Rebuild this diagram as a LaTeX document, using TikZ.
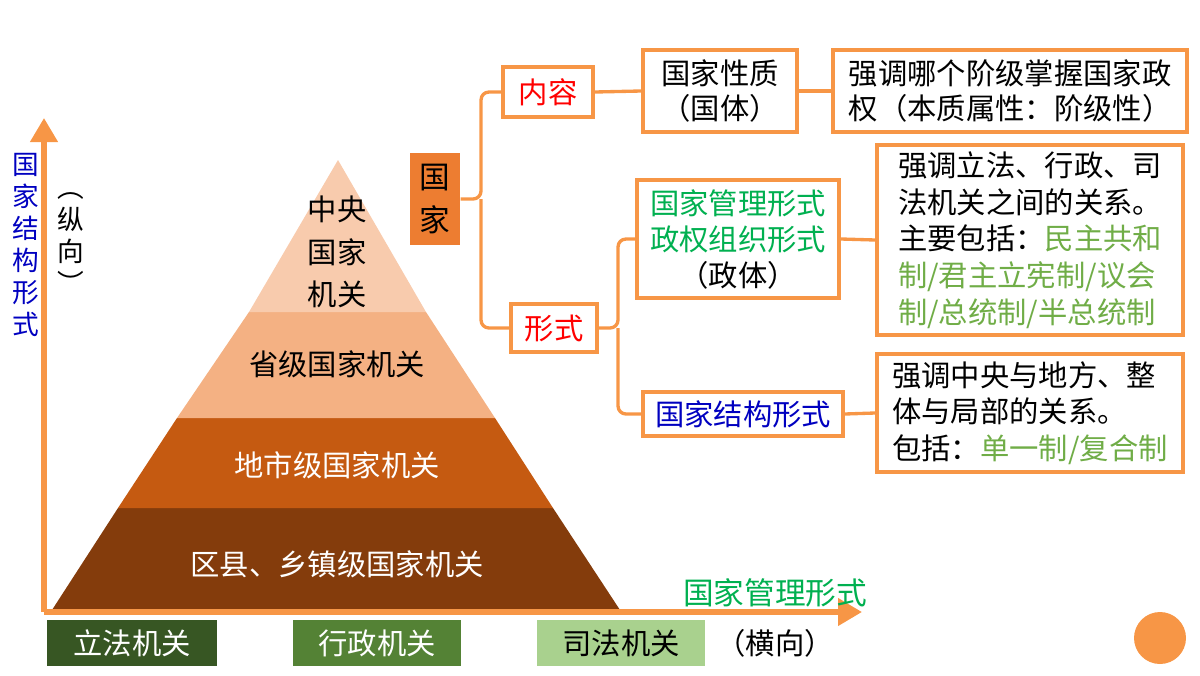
\documentclass[tikz,border=0pt]{standalone}
\usepackage{fontspec}
\setmainfont{Noto Sans CJK SC}
\usetikzlibrary{arrows.meta}
\definecolor{orline}{RGB}{247,150,70}
\definecolor{guoBlue}{RGB}{0,0,192}
\definecolor{guoGreen}{RGB}{0,176,80}
\definecolor{liteGreen}{RGB}{112,173,71}
\tikzset{every picture/.style={line width=0.75pt}}
\tikzset{
  box/.style={draw=orline,line width=3pt,fill=white,inner sep=0pt,align=center},
  branch/.style={draw=orline,line width=2.5pt,rounded corners=6pt},
  base/.style={inner sep=0pt,font=\fontsize{22}{26}\selectfont},
  axis/.style={draw=orline,line width=4pt,-{Triangle[length=18pt,width=20pt]}}
}
\begin{document}
\begin{tikzpicture}[x=0.75pt,y=0.75pt,yscale=-1,xscale=1]
\useasboundingbox (0,0) rectangle (1200,675);

%Pyramid
\fill [fill={rgb, 255:red, 132; green, 60; blue, 12}] (52,610) -- (620,610) -- (553,508) -- (118,508) -- cycle;
\fill [fill={rgb, 255:red, 197; green, 90; blue, 17}] (118,508) -- (553,508) -- (495,418) -- (177,418) -- cycle;
\fill [fill={rgb, 255:red, 244; green, 177; blue, 131}] (177,418) -- (495,418) -- (426,312) -- (249,312) -- cycle;
\fill [fill={rgb, 255:red, 248; green, 203; blue, 173}] (249,312) -- (426,312) -- (338,160) -- cycle;
\node [base,align=center,font=\fontsize{22}{32}\selectfont] (central) at (337,252) {中央\\国家\\机关};
\node [base] (prov) at (337,364) {省级国家机关};
\node [base,text=white] (city) at (337,465) {地市级国家机关};
\node [base,text=white] (county) at (337,564) {区县、乡镇级国家机关};

%Axes
\coordinate (origin) at (44,612);
\coordinate (ytop) at (44,118);
\coordinate (xend) at (862,612);
\draw [axis] (origin) -- (ytop);
\draw [axis] (origin) -- (xend);
\node [base,text=guoBlue,align=center,font=\fontsize{20}{24}\selectfont] (yname) at (26,245) {国\\家\\结\\构\\形\\式};
\node [base,align=center,font=\fontsize{20}{24}\selectfont] (ydir) at (71,243) {︵\\纵\\向\\︶};
\node [base,text=guoGreen,font=\fontsize{23}{26}\selectfont] (xname) at (775,593) {国家管理形式};

%Bottom organs
\node [base,fill={rgb, 255:red, 55; green, 86; blue, 35},text=white,minimum width=127.5pt,minimum height=34.5pt] (legis) at (132,643) {立法机关};
\node [base,fill={rgb, 255:red, 84; green, 130; blue, 53},text=white,minimum width=126pt,minimum height=34.5pt] (exec) at (377,643) {行政机关};
\node [base,fill={rgb, 255:red, 169; green, 209; blue, 142},minimum width=126pt,minimum height=34.5pt] (judic) at (621,643) {司法机关};
\node [base] (xdir) at (775,643) {（横向）};
\fill [fill=orline] (1160,638) circle (26);

%Tree
\node [base,fill={rgb, 255:red, 237; green, 125; blue, 49},align=center,minimum width=37.5pt,minimum height=69pt,font=\fontsize{23}{32}\selectfont] (guojia) at (435,199) {国\\家};
\node [box,base,text=red,minimum width=67.5pt,minimum height=37.5pt] (neirong) at (548,92) {内容};
\node [box,base,text=red,minimum width=64.5pt,minimum height=36pt] (xingshi) at (554,328) {形式};
\node [box,base,minimum width=115.5pt,minimum height=61.5pt] (xingzhi) at (720,91) {国家性质\\（国体）};
\node [box,base,align=left,minimum width=265.5pt,minimum height=61.5pt] (xzdesc) at (1010,91) {强调哪个阶级掌握国家政\\权（本质属性：阶级性）};
\node [box,base,minimum width=151.5pt,minimum height=88.5pt,font=\fontsize{22}{27}\selectfont] (zhengti) at (738,239) {\textcolor{guoGreen}{国家管理形式}\\\textcolor{guoGreen}{政权组织形式}\\（政体）};
\node [box,base,align=left,minimum width=229.5pt,minimum height=143pt,font=\fontsize{22}{27.5}\selectfont] (ztdesc) at (1030,240) {强调立法、行政、司\\法机关之间的关系。\\主要包括：\textcolor{liteGreen}{民主共和}\\\textcolor{liteGreen}{制/君主立宪制/议会}\\\textcolor{liteGreen}{制/总统制/半总统制}};
\node [box,base,text=guoBlue,minimum width=150pt,minimum height=33pt] (jiegou) at (743,414) {国家结构形式};
\node [box,base,align=left,minimum width=229.5pt,minimum height=88.5pt,font=\fontsize{22}{27.5}\selectfont] (jgdesc) at (1030,413) {强调中央与地方、整\\体与局部的关系。\\包括：\textcolor{liteGreen}{单一制/复合制}};

\draw [branch] (guojia.east) -- (481,210 |- guojia.east) -- (481,95 |- neirong.west) -- (neirong.west);
\draw [branch] (481,210 |- guojia.east) -- (481,325 |- xingshi.west) -- (xingshi.west);
\draw [branch] (neirong.east) -- (xingzhi.west);
\draw [branch] (xingzhi.east) -- (xzdesc.west);
\draw [branch] (xingshi.east) -- (618,328 |- xingshi.east) -- (618,243 |- zhengti.west) -- (zhengti.west);
\draw [branch] (618,328 |- xingshi.east) -- (618,412 |- jiegou.west) -- (jiegou.west);
\draw [branch] (zhengti.east) -- (ztdesc.west);
\draw [branch] (jiegou.east) -- (jgdesc.west);
\end{tikzpicture}
\end{document}
